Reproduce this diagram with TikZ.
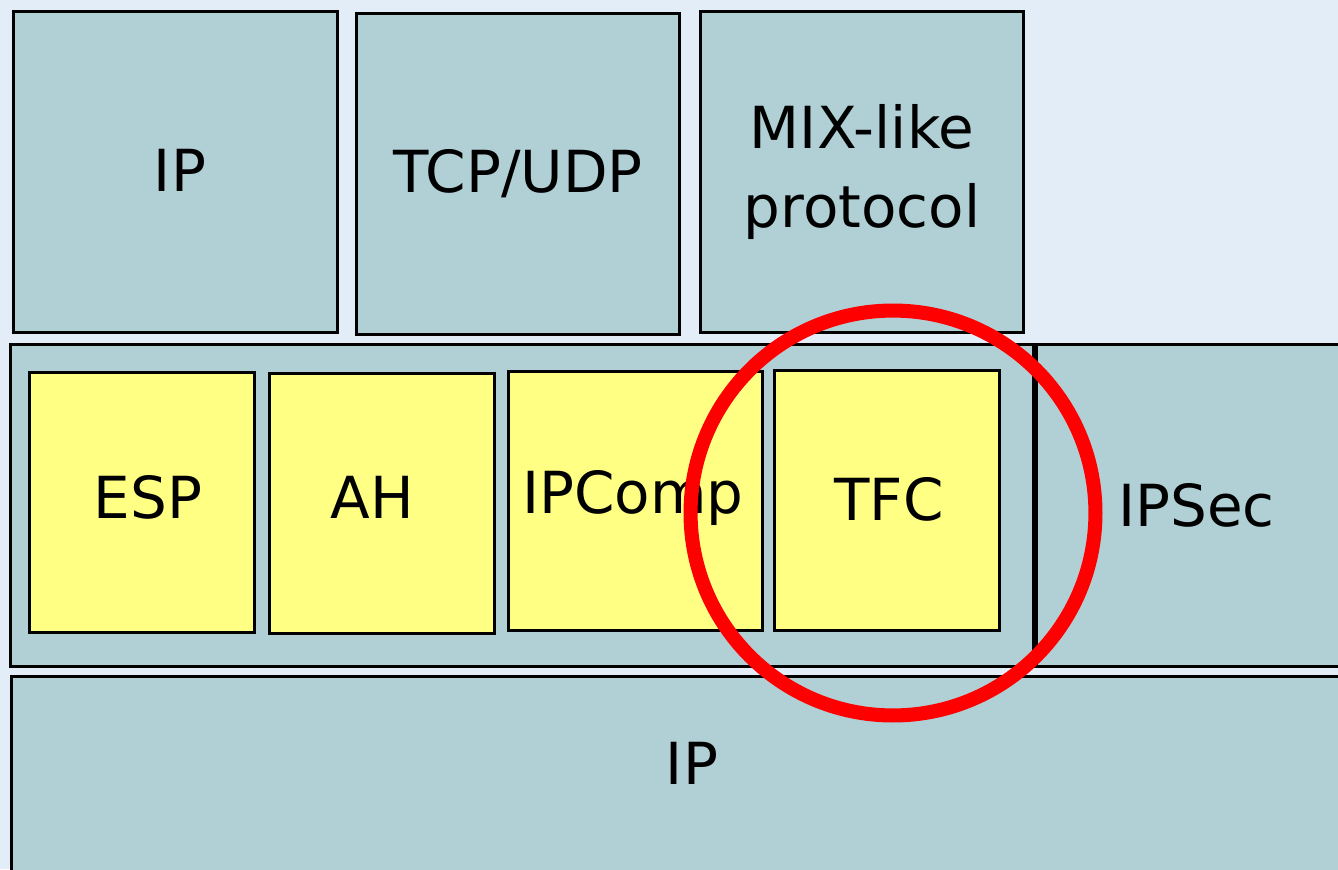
\documentclass[tikz,border=0pt]{standalone}
\usepackage{fontspec}
\setmainfont{DejaVu Sans}
\definecolor{bgblue}{HTML}{E2EDF8}
\definecolor{boxblue}{HTML}{B0D0D6}
\definecolor{boxyellow}{HTML}{FFFF84}
\begin{document}
\begin{tikzpicture}[x=0.02cm,y=-0.02cm,
  layer/.style={draw=black, fill=boxblue, line width=1.8pt, anchor=north west, inner sep=0pt,
     font=\fontsize{33}{45}\selectfont, align=center},
  proto/.style={layer, fill=boxyellow},
  txt/.style={font=\fontsize{33}{45}\selectfont, align=center, inner sep=0pt},
  ring/.style={circle, draw=red, line width=8pt, inner sep=0pt}]
\useasboundingbox (0,0) rectangle (1338,869);
\clip (0,0) rectangle (1338,869);
\fill[bgblue] (0,0) rectangle (1338,869);
% top row
\node[layer, minimum width=6.48cm, minimum height=6.42cm] (iptop) at (12,10) {};
\node[txt] (iptoplabel) at (180,170) {IP};
\node[layer, minimum width=6.46cm, minimum height=6.42cm] (tcp) at (355,12) {TCP/UDP};
\node[layer, minimum width=6.46cm, minimum height=6.42cm] (mix) at (699,10) {MIX-like\\protocol};
% middle row
\node[layer, minimum width=20.46cm, minimum height=6.44cm] (ipsecbox) at (9,343) {};
\node[layer, minimum width=6.4cm, minimum height=6.44cm] (ipsec) at (1035,343) {IPSec};
\node[proto, minimum width=4.5cm, minimum height=5.2cm] (esp) at (28,371) {};
\node[txt] (esplabel) at (148,497) {ESP};
\node[proto, minimum width=4.5cm, minimum height=5.2cm] (ah) at (268,372) {};
\node[txt] (ahlabel) at (372,497) {AH};
\node[proto, minimum width=5.08cm, minimum height=5.18cm] (ipcomp) at (507,370) {};
\node[txt] (ipcomplabel) at (633,498) {IPComp};
\node[proto, minimum width=4.5cm, minimum height=5.2cm] (tfc) at (773,369) {};
\node[txt] (tfclabel) at (889,499) {TFC};
% bottom
\node[layer, minimum width=27.28cm, minimum height=4.2cm] (ipbot) at (10,675) {};
\node[txt] (ipbotlabel) at (692,763) {IP};
% highlight
\node[ring, minimum size=8.1cm] (highlight) at (893,513) {};
\end{tikzpicture}
\end{document}
